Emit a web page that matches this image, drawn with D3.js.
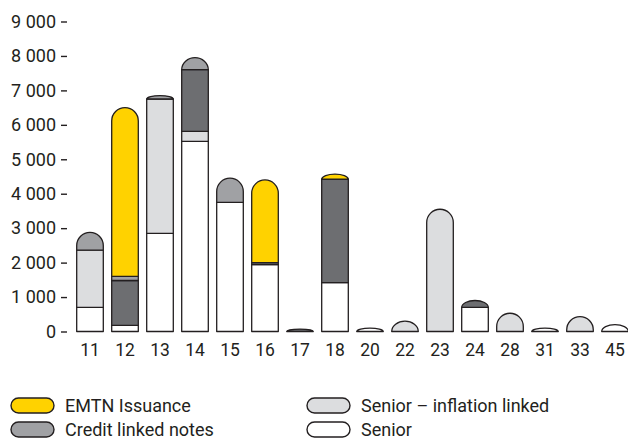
<!DOCTYPE html>
<html>
<head>
<meta charset="utf-8">
<script src="https://cdn.jsdelivr.net/npm/d3@7"></script>
<style>
  html, body { margin: 0; padding: 0; background: #fff; }
  svg { display: block; font-family: Roboto, "DejaVu Sans", sans-serif; }
</style>
</head>
<body>
<svg id="chart" width="628" height="441"></svg>
<script>
// Maturity buckets along the x axis
const categories = ["11", "12", "13", "14", "15", "16", "17", "18", "20", "22", "23", "24", "28", "31", "33", "45"];

// Amounts per instrument type, stacked bottom to top
const senior          = [700, 180, 2850, 5520, 3750, 1940, 0,  1420, 100, 0,   0,    700, 0,   100, 0,   200];
const seniorInflation = [1660, 0,  3900, 290,  0,    0,    0,  0,    0,   300, 3550, 0,   530, 0,   430, 0];
const otherNotes      = [0,   1300, 0,   1790, 0,    60,   70, 3000, 0,   0,   0,    200, 0,   0,   0,   0];
const creditLinked    = [520, 120, 100,  350,  700,  0,    0,  0,    0,   0,   0,    0,   0,   0,   0,   0];
const emtn            = [0,   4900, 0,   0,    0,    2400, 0,  150,  0,   0,   0,    0,   0,   0,   0,   0];

const yTicks = [0, 1000, 2000, 3000, 4000, 5000, 6000, 7000, 8000, 9000];

const seriesList = [
  { name: "Senior", values: senior, color: "#ffffff" },
  { name: "Senior – inflation linked", values: seniorInflation, color: "#dcdddf" },
  { name: "Other notes", values: otherNotes, color: "#6d6e71" },
  { name: "Credit linked notes", values: creditLinked, color: "#a0a1a4" },
  { name: "EMTN Issuance", values: emtn, color: "#ffd200" }
];

const legendItems = [
  { name: "EMTN Issuance", color: "#ffd200" },
  { name: "Credit linked notes", color: "#a0a1a4" },
  { name: "Senior – inflation linked", color: "#dcdddf" },
  { name: "Senior", color: "#ffffff" }
];

const ink = "#231f20";
const svg = d3.select("#chart");

const x = d3.scaleBand()
  .domain(categories)
  .range([72.5, 632.5])
  .paddingInner(0.24)
  .paddingOuter(0.12);

const y = d3.scaleLinear()
  .domain([0, 9000])
  .range([331.5, 21.5]);

// Y axis: ticks as short dashes, no domain line
const yAxis = svg.append("g")
  .attr("transform", "translate(67,0)")
  .call(d3.axisLeft(y)
    .tickValues(yTicks)
    .tickSize(6)
    .tickPadding(5)
    .tickFormat(d => d3.format(",")(d).replace(/,/g, " ")));
yAxis.select(".domain").remove();
yAxis.selectAll(".tick line").attr("stroke", ink).attr("stroke-width", 1.4);
yAxis.selectAll(".tick text")
  .attr("fill", ink)
  .style("font-size", "18px")
  .style("font-family", "Roboto, sans-serif");

// X labels
svg.append("g")
  .selectAll("text")
  .data(categories)
  .join("text")
  .attr("x", d => x(d) + x.bandwidth() / 2)
  .attr("y", 356)
  .attr("text-anchor", "middle")
  .attr("fill", ink)
  .style("font-size", "17.5px")
  .text(d => d);

// Build stacked segments per category
const keys = seriesList.map(s => s.name);
const rows = categories.map((c, i) => {
  const r = { cat: c };
  seriesList.forEach(s => { r[s.name] = s.values[i]; });
  return r;
});
const stacked = d3.stack().keys(keys)(rows);

// Find the top non-empty segment index per category
const topIndex = categories.map((c, i) => {
  let t = -1;
  seriesList.forEach((s, k) => { if (s.values[i] > 0) t = k; });
  return t;
});

const bw = x.bandwidth();
function segPath(x0, yb, yt, rounded) {
  if (!rounded) {
    return `M${x0},${yb}L${x0},${yt}L${x0 + bw},${yt}L${x0 + bw},${yb}Z`;
  }
  const r = bw / 2;
  const ry = Math.min(r, yb - yt);
  return `M${x0},${yb}L${x0},${yt + ry}A${r},${ry} 0 0 1 ${x0 + bw},${yt + ry}L${x0 + bw},${yb}Z`;
}

const bars = svg.append("g");
stacked.forEach((layer, k) => {
  layer.forEach((d, i) => {
    if (d[1] - d[0] <= 0) return;
    const x0 = x(categories[i]);
    bars.append("path")
      .attr("d", segPath(x0, y(d[0]), y(d[1]), topIndex[i] === k))
      .attr("fill", seriesList[k].color)
      .attr("stroke", ink)
      .attr("stroke-width", 1.3)
      .attr("stroke-linejoin", "round");
  });
});

// Legend
const legendPos = [
  { x: 11, y: 398 }, { x: 11, y: 422 },
  { x: 307, y: 398 }, { x: 307, y: 422 }
];
const legend = svg.append("g");
legendItems.forEach((item, i) => {
  const p = legendPos[i];
  legend.append("rect")
    .attr("x", p.x).attr("y", p.y)
    .attr("width", 43).attr("height", 15)
    .attr("rx", 7.5).attr("ry", 7.5)
    .attr("fill", item.color)
    .attr("stroke", ink)
    .attr("stroke-width", 1.4);
  legend.append("text")
    .attr("x", p.x + 54)
    .attr("y", p.y + 14)
    .attr("fill", ink)
    .style("font-size", "18px")
    .text(item.name);
});
</script>
</body>
</html>
